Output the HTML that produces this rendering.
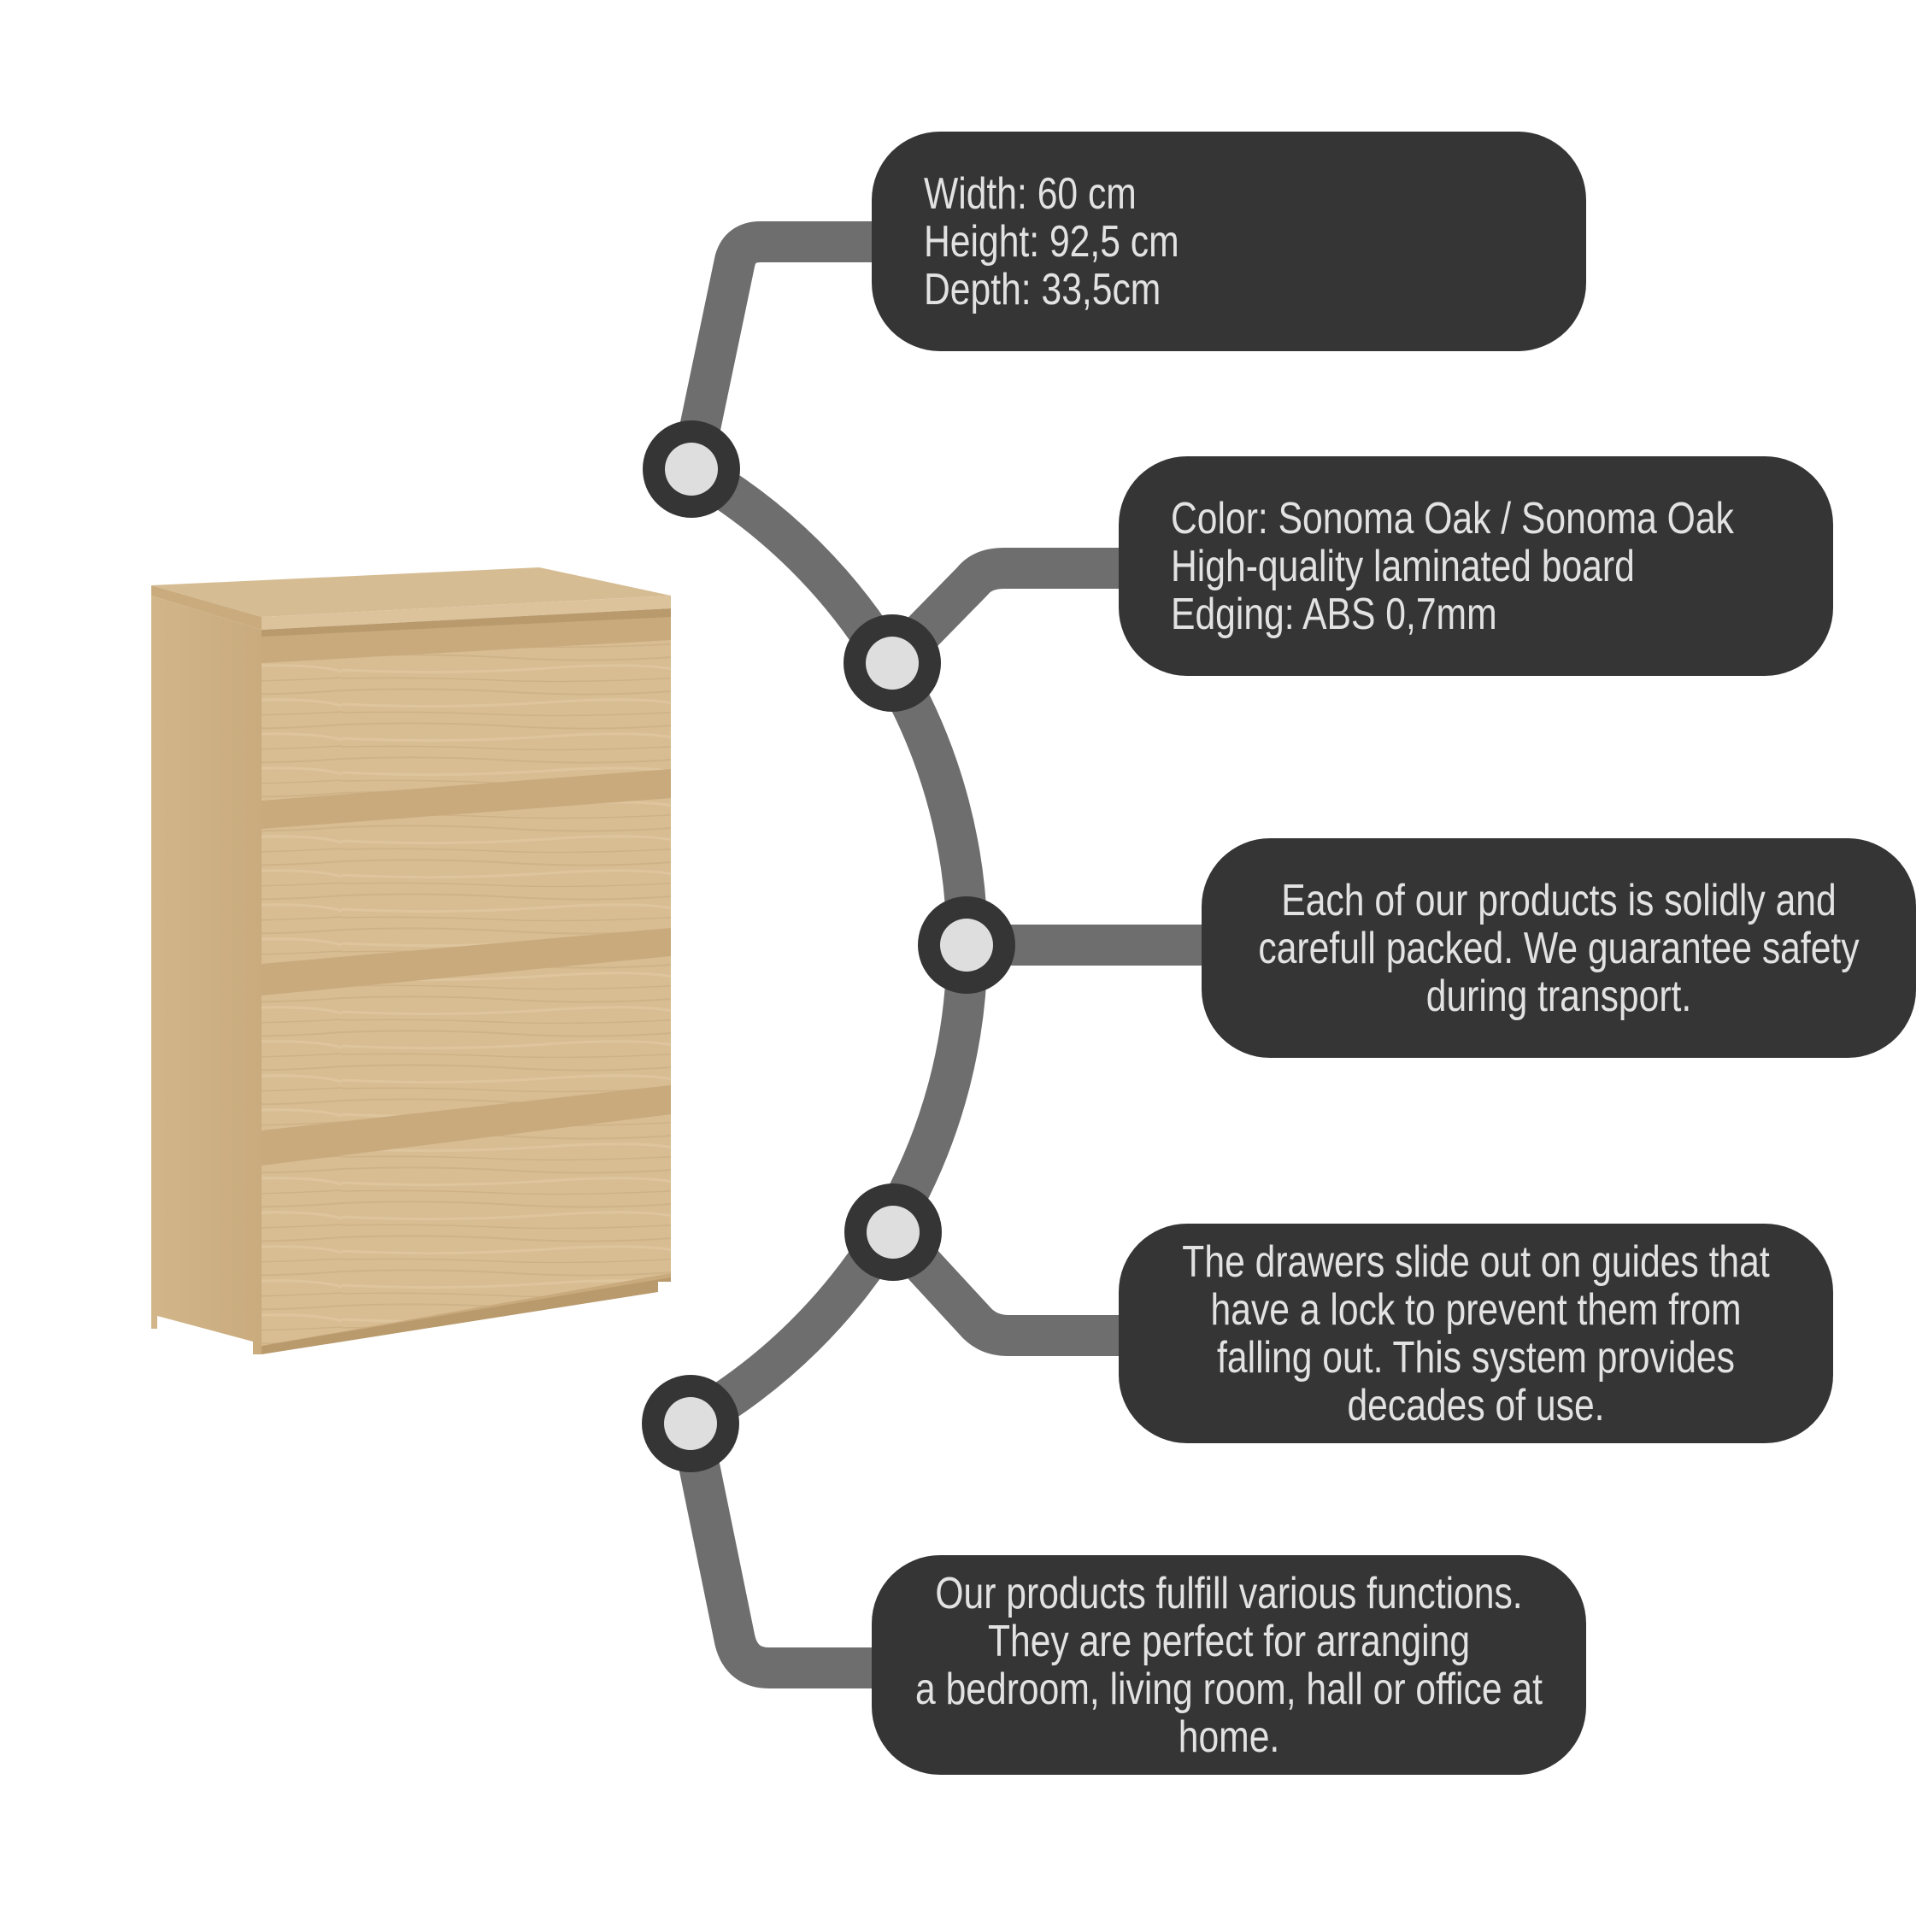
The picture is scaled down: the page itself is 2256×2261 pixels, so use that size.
<!DOCTYPE html>
<html><head><meta charset="utf-8"><style>
html,body{margin:0;padding:0;background:#fff;}
body{width:2256px;height:2261px;position:relative;overflow:hidden;}
svg{position:absolute;left:0;top:0;}
.box{position:absolute;background:#353535;border-radius:80px;}
.t{position:absolute;top:50%;white-space:nowrap;color:#e2e2e2;font-family:"Liberation Sans",sans-serif;font-size:52px;line-height:56px;}
.l{left:61px;transform:translateY(-50%) scaleX(0.82);transform-origin:left center;}
.c{left:50%;width:1400px;margin-left:-700px;text-align:center;transform:translateY(-50%) scaleX(0.82);transform-origin:center center;}
</style></head><body>
<svg width="2256" height="2261" viewBox="0 0 2256 2261">
<defs>
<linearGradient id="side" x1="0" x2="1" y1="0" y2="0">
<stop offset="0" stop-color="#d2b68a"/><stop offset="0.5" stop-color="#cdb083"/><stop offset="1" stop-color="#c9ab7e"/></linearGradient>
<pattern id="grain" width="400" height="40" patternUnits="userSpaceOnUse">
<rect width="400" height="40" fill="#d8bd93"/>
<path d="M0 8 Q100 4 200 10 T400 8" stroke="#c8ab80" stroke-width="2" fill="none" opacity=".6"/>
<path d="M0 24 Q120 30 240 22 T400 26" stroke="#e2caa4" stroke-width="3" fill="none" opacity=".6"/>
<path d="M0 34 Q90 32 180 36 T400 33" stroke="#c4a679" stroke-width="1.5" fill="none" opacity=".5"/>
</pattern>
</defs>
<!-- dresser -->
<polygon points="177,685 631,664 785,697 306,722" fill="#d6bc93"/>
<polygon points="177,685 306,722 306,737 177,697" fill="#c9ab7d"/>
<polygon points="306,722 785,697 785,712 306,737" fill="#dcc39b"/>
<polygon points="177,697 306,737 306,1585 296,1585 296,1570 184,1540 184,1555 177,1555" fill="url(#side)"/>
<polygon points="306,737 785,712 785,1500 770,1500 770,1512 306,1585" fill="#b99a6c"/>
<polygon points="306,745 785,722 785,1495 306,1575" fill="#c8aa7c"/>
<polygon points="306,776 785,749 785,900 306,937" fill="url(#grain)"/>
<polygon points="306,970 785,934 785,1086 306,1128" fill="url(#grain)"/>
<polygon points="306,1165 785,1119 785,1270 306,1323" fill="url(#grain)"/>
<polygon points="306,1364 785,1304 785,1490 306,1575" fill="url(#grain)"/>
<!-- connectors -->
<g fill="none" stroke="#6e6e6e" stroke-width="48" stroke-linejoin="round">
<path d="M809,549 A643,643 0 0 1 809,1664"/>
<path d="M809,549 L860,305 Q866,283 890,283 L1040,283"/>
<path d="M1044,776 L1138,680 Q1150,665 1175,665 L1330,665"/>
<path d="M1131,1106 L1420,1106"/>
<path d="M1045,1442 L1140,1545 Q1155,1563 1180,1563 L1330,1563"/>
<path d="M808,1666 L860,1920 Q868,1952 900,1952 L1040,1952"/>
</g>
<g fill="#353535">
<circle cx="809" cy="549" r="57"/><circle cx="1044" cy="776" r="57"/><circle cx="1131" cy="1106" r="57"/><circle cx="1045" cy="1442" r="57"/><circle cx="808" cy="1666" r="57"/>
</g>
<g fill="#dedede">
<circle cx="809" cy="549" r="31"/><circle cx="1044" cy="776" r="31"/><circle cx="1131" cy="1106" r="31"/><circle cx="1045" cy="1442" r="31"/><circle cx="808" cy="1666" r="31"/>
</g>
</svg>
<div class="box" style="left:1020px;top:154px;width:836px;height:257px;"><div class="t l">Width: 60 cm<br>Height: 92,5 cm<br>Depth: 33,5cm</div></div>
<div class="box" style="left:1309px;top:534px;width:836px;height:257px;"><div class="t l">Color: Sonoma Oak / Sonoma Oak<br>High-quality laminated board<br>Edging: ABS 0,7mm</div></div>
<div class="box" style="left:1406px;top:981px;width:836px;height:257px;"><div class="t c">Each of our products is solidly and<br>carefull packed. We guarantee safety<br>during transport.</div></div>
<div class="box" style="left:1309px;top:1432px;width:836px;height:257px;"><div class="t c">The drawers slide out on guides that<br>have a lock to prevent them from<br>falling out. This system provides<br>decades of use.</div></div>
<div class="box" style="left:1020px;top:1820px;width:836px;height:257px;"><div class="t c">Our products fulfill various functions.<br>They are perfect for arranging<br>a bedroom, living room, hall or office at<br>home.</div></div>
</body></html>
